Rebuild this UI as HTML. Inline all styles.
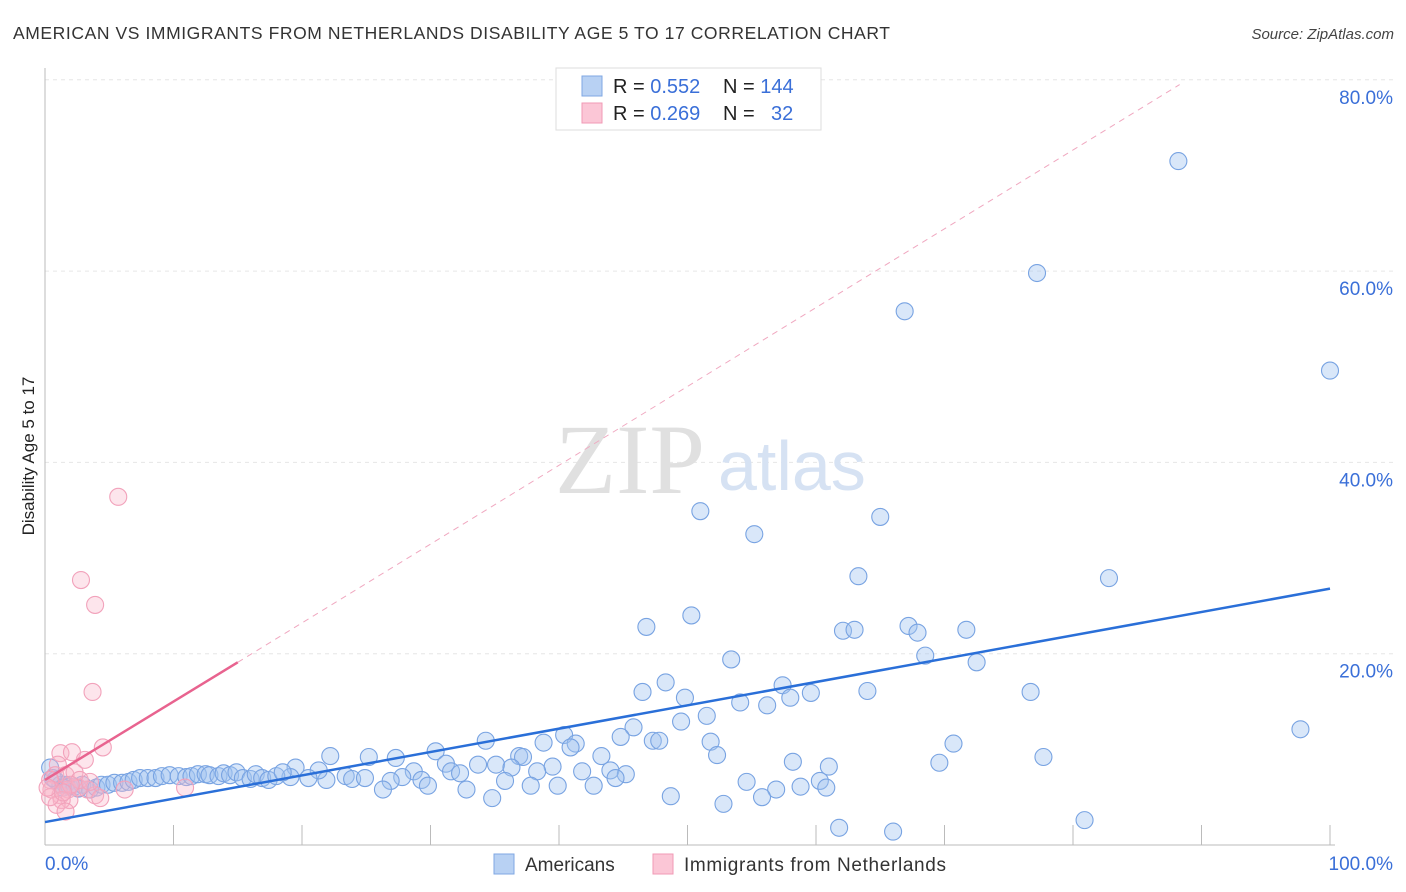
<!DOCTYPE html>
<html><head><meta charset="utf-8">
<style>
body{margin:0;background:#fff;font-family:"Liberation Sans",sans-serif;}
#wrap{position:relative;width:1406px;height:892px;overflow:hidden;}
</style></head>
<body>
<div id="wrap">
<svg id="svg" width="1406" height="892" xmlns="http://www.w3.org/2000/svg">
<text x="13" y="39" font-size="17.5" fill="#333" textLength="877">AMERICAN VS IMMIGRANTS FROM NETHERLANDS DISABILITY AGE 5 TO 17 CORRELATION CHART</text>
<text x="1394" y="39" font-size="15" fill="#444" font-style="italic" text-anchor="end">Source: ZipAtlas.com</text>
<text x="34" y="456" font-size="17" fill="#222" text-anchor="middle" transform="rotate(-90 34 456)">Disability Age 5 to 17</text>
<g id="grid"></g>
<text x="555" y="493" font-size="100" fill="#e0e0e0" font-family="Liberation Serif">ZIP</text>
<text x="718" y="490" font-size="70" fill="#d6e2f3">atlas</text>
<g id="marks"></g>
<g id="lines"></g>
<g>
<rect x="556" y="68" width="265" height="62" fill="#fff" stroke="#ddd"/>
<rect x="582" y="76" width="20" height="20" fill="#b8d1f3" stroke="#7fa7e3"/>
<rect x="582" y="103" width="20" height="20" fill="#fbc6d6" stroke="#f09ab5"/>
<text x="613" y="93" font-size="20" fill="#222">R = <tspan fill="#3a6fd8">0.552</tspan></text>
<text x="723" y="93" font-size="20" fill="#222">N = <tspan fill="#3a6fd8">144</tspan></text>
<text x="613" y="120" font-size="20" fill="#222">R = <tspan fill="#3a6fd8">0.269</tspan></text>
<text x="723" y="120" font-size="20" fill="#222">N = <tspan fill="#3a6fd8" x="771">32</tspan></text>
</g>
<g>
<rect x="494" y="854" width="20" height="20" fill="#b8d1f3" stroke="#7fa7e3"/>
<text x="525" y="871" font-size="19" fill="#333">Americans</text>
<rect x="653" y="854" width="20" height="20" fill="#fbc6d6" stroke="#f09ab5"/>
<text x="684" y="871" font-size="19" fill="#333" textLength="262">Immigrants from Netherlands</text>
</g>
</svg>
</div>
<script>
const yTicks=[20,40,60,80];
const yTickLabels=["20.0%","40.0%","60.0%","80.0%"];
const xTicks=[0,10,20,30,40,50,60,70,80,90,100];
const blueX=[88.2,77.2,66.9,100,51.0,55.2,65.0,63.3,82.8,46.8,50.3,62.1,63.0,67.2,67.9,71.7,53.4,68.5,72.5,46.5,48.3,49.8,57.4,58.0,59.6,64.0,76.7,54.1,56.2,51.5,49.5,45.8,97.7,40.4,41.3,40.9,44.8,47.3,47.8,38.8,34.3,51.8,70.7,30.4,43.3,52.3,77.7,36.9,37.2,25.2,27.3,22.2,58.2,69.6,61.0,31.2,33.7,35.1,36.3,39.5,41.8,44.0,31.6,32.3,38.3,45.2,44.4,28.7,27.8,23.4,23.9,60.3,54.6,24.9,26.9,29.3,35.8,21.9,21.3,19.5,19.1,20.5,29.8,37.8,39.9,42.7,58.8,60.8,26.3,32.8,56.9,55.8,48.7,34.8,52.8,61.8,66.0,80.9,
0.4,0.8,1.2,1.6,1.9,2.3,2.9,3.5,4.0,4.4,4.9,5.4,6.0,6.5,6.9,7.4,8.0,8.6,9.1,9.7,10.4,11.0,11.4,11.9,12.5,12.8,13.5,13.9,14.4,14.9,15.4,16.0,16.4,16.9,17.4,18.0,18.5,0.6,1.4,2.6];
const blueY=[71.5,59.8,55.8,49.6,34.9,32.5,34.3,28.1,27.9,22.8,24.0,22.4,22.5,22.9,22.2,22.5,19.4,19.8,19.1,16.0,17.0,15.4,16.7,15.4,15.9,16.1,16.0,14.9,14.6,13.5,12.9,12.3,12.1,11.5,10.6,10.2,11.3,10.9,10.9,10.7,10.9,10.8,10.6,9.8,9.3,9.4,9.2,9.3,9.2,9.2,9.1,9.3,8.7,8.6,8.2,8.5,8.4,8.4,8.1,8.2,7.7,7.8,7.7,7.5,7.7,7.4,7.0,7.7,7.1,7.2,6.9,6.7,6.6,7.0,6.7,6.8,6.7,6.8,7.8,8.1,7.1,7.0,6.2,6.2,6.2,6.2,6.1,6.0,5.8,5.8,5.8,5.0,5.1,4.9,4.3,1.8,1.4,2.6,
8.1,6.8,6.3,6.3,6.1,6.1,6.3,5.8,6.0,6.3,6.3,6.5,6.5,6.6,6.8,7.0,7.0,7.0,7.2,7.3,7.2,7.1,7.2,7.4,7.4,7.3,7.2,7.5,7.3,7.6,7.0,6.9,7.4,7.0,6.8,7.2,7.6,7.0,6.0,5.9];
const pinkX=[5.7,2.8,3.9,3.7,4.5,1.2,2.1,3.1,1.0,0.8,1.6,2.3,0.4,0.5,1.2,1.8,2.6,3.3,3.9,4.3,1.9,1.3,0.9,0.4,1.6,6.2,10.9,2.7,3.5,0.2,2.0,1.4];
const pinkY=[36.4,27.7,25.1,16.0,10.2,9.6,9.7,8.9,8.4,7.3,7.3,7.6,6.8,5.8,5.2,5.8,6.0,5.8,5.2,4.9,4.7,4.7,4.2,5.0,3.5,5.8,6.0,6.8,6.6,6.0,6.3,5.5];
const blueTrend=[[0,2.4],[100,26.8]];
const pinkTrend=[[0,6.8],[15,19.1]];
const pinkDash=[[15,19.1],[88.3,79.5]];

const X0=45,X1=1330,Y0=845,YPER=9.565;
const sx=v=>X0+(X1-X0)*v/100;
const sy=v=>Y0-v*YPER;
const NS="http://www.w3.org/2000/svg";
function mk(tag,attrs,parent){const e=document.createElementNS(NS,tag);for(const k in attrs)e.setAttribute(k,attrs[k]);parent.appendChild(e);return e;}
const grid=document.getElementById('grid');
yTicks.forEach((t,i)=>{
 const l=mk('line',{x1:X0,x2:1395,y1:sy(t),y2:sy(t),stroke:'#e6e6e6','stroke-dasharray':'4,4'},grid);
 
 
 const tx=mk('text',{x:1393,y:sy(t)+24,'font-size':19,fill:'#3a6fd8','text-anchor':'end'},grid);
 tx.textContent=yTickLabels[i];
 
 
});
const ax=mk('line',{x1:X0,x2:X0,y1:68,y2:Y0,stroke:'#bbb'},grid);


const bx=mk('line',{x1:X0,x2:X1+5,y1:Y0,y2:Y0,stroke:'#bbb'},grid);


xTicks.forEach(t=>{
 const l=mk('line',{x1:sx(t),x2:sx(t),y1:Y0,y2:Y0-20,stroke:'#bbb'},grid);
 
 
});
const xl=mk('text',{x:X0,y:870,'font-size':19,fill:'#3a6fd8'},grid);xl.textContent='0.0%';


const xr=mk('text',{x:1393,y:870,'font-size':19,fill:'#3a6fd8','text-anchor':'end'},grid);xr.textContent='100.0%';


const marks=document.getElementById('marks');
blueX.forEach((v,i)=>{
 const c=mk('circle',{cx:sx(v),cy:sy(blueY[i]),r:8.5,fill:'rgba(160,195,240,0.4)',stroke:'#78a3e2','stroke-width':1.1},marks);
 
 
});
pinkX.forEach((v,i)=>{
 const c=mk('circle',{cx:sx(v),cy:sy(pinkY[i]),r:8.5,fill:'rgba(250,180,200,0.35)',stroke:'#f2a2bb','stroke-width':1.1},marks);
 
 
});
const lines=document.getElementById('lines');
const b=mk('line',{x1:sx(blueTrend[0][0]),y1:sy(blueTrend[0][1]),x2:sx(blueTrend[1][0]),y2:sy(blueTrend[1][1]),stroke:'#2a6fd8','stroke-width':2.5},lines);


const p=mk('line',{x1:sx(pinkTrend[0][0]),y1:sy(pinkTrend[0][1]),x2:sx(pinkTrend[1][0]),y2:sy(pinkTrend[1][1]),stroke:'#e8638f','stroke-width':2.5},lines);


const d=mk('line',{x1:sx(pinkDash[0][0]),y1:sy(pinkDash[0][1]),x2:sx(pinkDash[1][0]),y2:sy(pinkDash[1][1]),stroke:'#f0a8c0','stroke-width':1,'stroke-dasharray':'6,5'},lines);


</script>
</body></html>
